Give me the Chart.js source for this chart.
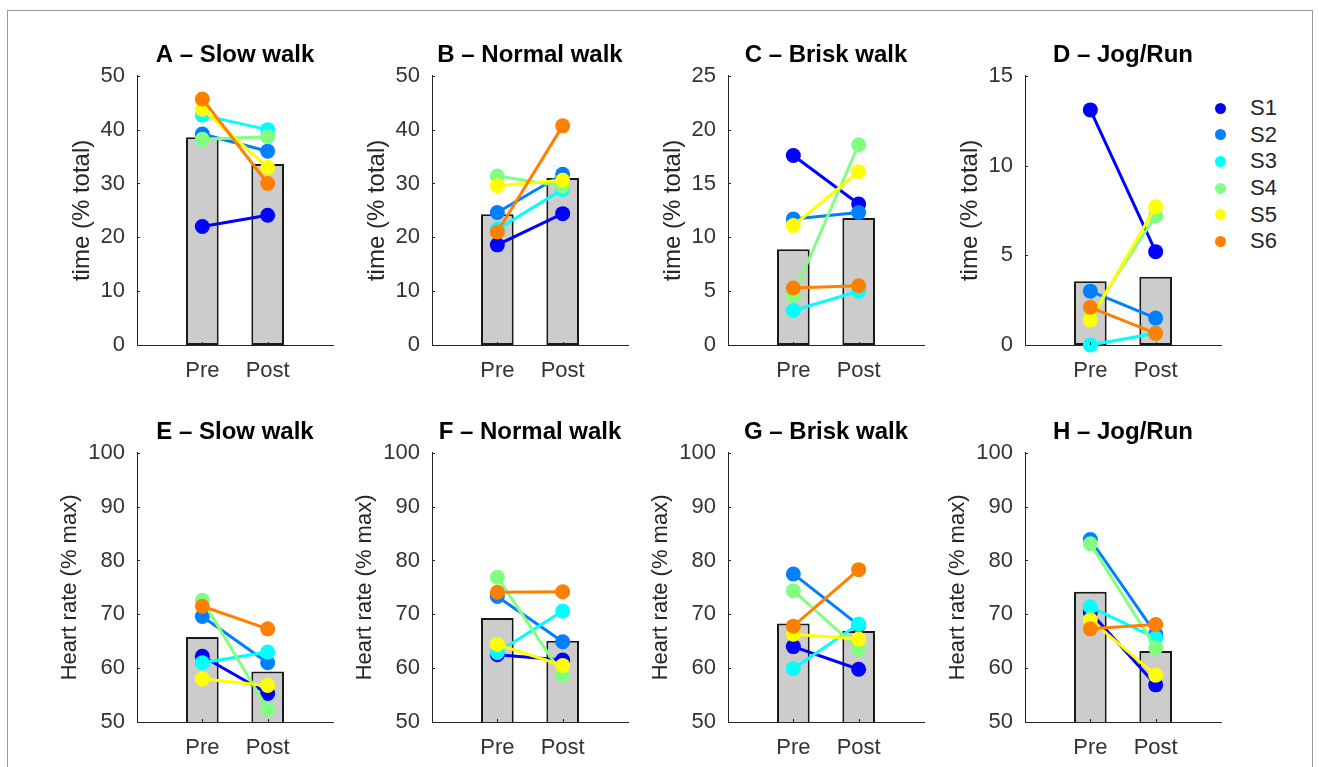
<!DOCTYPE html>
<html>
<head>
<meta charset="utf-8">
<script src="https://cdn.jsdelivr.net/npm/chart.js@4"></script>
<style>
  body { margin: 0; background: #fff; width: 1319px; height: 767px; overflow: hidden; position: relative; font-family: "Liberation Sans", Arial, sans-serif; }
  .frame { position: absolute; left: 7px; top: 10px; width: 1304px; height: 800px; border: 1px solid #9a9a9a; }
  canvas { position: absolute; }
  .legend { position: absolute; left: 1214px; top: 95px; }
  .legend div { height: 26.6px; display: flex; align-items: center; font-size: 22px; color: #262626; }
  .legend span { display: inline-block; width: 11px; height: 11px; border-radius: 50%; margin-right: 24px; margin-left: 1px; }
</style>
</head>
<body>
<div class="frame"></div>
<div class="legend" id="legend"></div>
<script>
const conditions = ['Pre', 'Post'];
const subjects = ['S1', 'S2', 'S3', 'S4', 'S5', 'S6'];
const subjectColors = ['#0000ff', '#0080ff', '#00ffff', '#80ff80', '#ffff00', '#ff8000'];

// time spent in each intensity (% total)
const slowTimePre = [22.0, 39.2, 42.7, 38.2, 43.8, 45.7];
const slowTimePost = [24.1, 36.0, 40.0, 38.7, 33.0, 30.0];
const slowTimeMean = [38.6, 33.6];
const normalTimePre = [18.6, 24.6, 21.5, 31.4, 29.6, 21.0];
const normalTimePost = [24.4, 31.7, 28.9, 29.5, 30.6, 40.7];
const normalTimeMean = [24.3, 31.0];
const briskTimePre = [17.6, 11.7, 3.2, 4.6, 11.1, 5.3];
const briskTimePost = [13.1, 12.3, 5.0, 18.6, 16.1, 5.5];
const briskTimeMean = [8.9, 11.8];
const jogTimePre = [13.1, 3.0, 0.0, 1.6, 1.4, 2.1];
const jogTimePost = [5.2, 1.5, 0.65, 7.2, 7.7, 0.65];
const jogTimeMean = [3.55, 3.8];

// heart rate (% max)
const slowHrPre = [62.2, 69.6, 61.0, 72.6, 58.0, 71.5];
const slowHrPost = [55.3, 61.0, 63.0, 52.4, 56.8, 67.3];
const slowHrMean = [65.8, 59.4];
const normalHrPre = [62.5, 73.3, 62.9, 76.9, 64.4, 74.1];
const normalHrPost = [61.5, 64.9, 70.6, 58.7, 60.5, 74.2];
const normalHrMean = [69.3, 65.1];
const briskHrPre = [64.0, 77.5, 59.9, 74.4, 66.3, 67.8];
const briskHrPost = [59.8, 68.0, 68.2, 63.5, 65.4, 78.3];
const briskHrMean = [68.3, 66.9];
const jogHrPre = [70.4, 83.9, 71.4, 83.1, 69.0, 67.3];
const jogHrPost = [56.9, 66.4, 65.6, 63.8, 58.7, 68.1];
const jogHrMean = [74.2, 63.2];

const timeTitles = ['A – Slow walk', 'B – Normal walk', 'C – Brisk walk', 'D – Jog/Run'];
const hrTitles = ['E – Slow walk', 'F – Normal walk', 'G – Brisk walk', 'H – Jog/Run'];
const timeAxisLabel = 'time (% total)';
const hrAxisLabel = 'Heart rate (% max)';
const timeYMax = [50, 50, 25, 15];
const timeYStep = [10, 10, 5, 5];
const hrYMin = 50, hrYMax = 100, hrYStep = 10;

const timePanels = [
  [slowTimePre, slowTimePost, slowTimeMean],
  [normalTimePre, normalTimePost, normalTimeMean],
  [briskTimePre, briskTimePost, briskTimeMean],
  [jogTimePre, jogTimePost, jogTimeMean]
];
const hrPanels = [
  [slowHrPre, slowHrPost, slowHrMean],
  [normalHrPre, normalHrPost, normalHrMean],
  [briskHrPre, briskHrPost, briskHrMean],
  [jogHrPre, jogHrPost, jogHrMean]
];

// layout
const FONT = '"Liberation Sans", Arial, sans-serif';
const axisLefts = [137, 432, 728, 1025];
const rowTops = [30, 407];
const CW = 396, CH = 370;

const xLabels = ['', ...conditions, ''];
const pad = arr => [null, ...arr, null];

// MATLAB style ticks pointing into the axes
const inwardTicks = {
  id: 'inwardTicks',
  afterDraw(chart) {
    const {ctx, chartArea: a, scales: {x, y}} = chart;
    ctx.save();
    ctx.strokeStyle = '#262626';
    ctx.lineWidth = 1;
    ctx.beginPath();
    y.ticks.forEach(t => {
      const py = Math.round(y.getPixelForValue(t.value)) + 0.5;
      ctx.moveTo(a.left, py); ctx.lineTo(a.left + 3, py);
    });
    [1, 2].forEach(i => {
      const px = Math.round(x.getPixelForValue(i)) + 0.5;
      ctx.moveTo(px, a.bottom); ctx.lineTo(px, a.bottom - 3);
    });
    ctx.stroke();
    ctx.restore();
  }
};

function makePanel(left, top, title, axisLabel, labelSize, yMin, yMax, yStep, pre, post, mean) {
  const canvas = document.createElement('canvas');
  canvas.width = CW; canvas.height = CH;
  canvas.style.left = (left - 100) + 'px';
  canvas.style.top = top + 'px';
  document.body.appendChild(canvas);

  // y label centre sits this far left of the y axis
  const labelGap = labelSize > 22 ? 55 : 67;

  const lines = subjects.map((s, i) => ({
    type: 'line',
    label: s,
    data: pad([pre[i], post[i]]),
    borderColor: subjectColors[i],
    backgroundColor: subjectColors[i],
    borderWidth: 3,
    pointRadius: 7.5,
    pointHoverRadius: 7.5,
    pointBorderWidth: 0,
    order: subjects.length - i,
    clip: false
  }));

  new Chart(canvas, {
    type: 'bar',
    data: {
      labels: xLabels,
      datasets: [...lines, {
        type: 'bar',
        label: 'mean',
        data: pad(mean),
        backgroundColor: '#cccccc',
        borderColor: '#1a1a1a',
        borderWidth: 2,
        borderSkipped: false,
        barPercentage: 0.5,
        categoryPercentage: 1,
        order: 10
      }]
    },
    options: {
      responsive: false,
      animation: false,
      events: [],
      layout: { padding: 0 },
      plugins: {
        legend: { display: false },
        tooltip: { enabled: false },
        title: {
          display: true, text: title, color: '#000',
          font: { family: FONT, size: 24, weight: 'bold' },
          padding: { top: 11, bottom: 6 }
        }
      },
      scales: {
        x: {
          type: 'category',
          offset: false,
          grid: { display: false, drawTicks: false },
          border: { color: '#262626', width: 1 },
          ticks: { color: '#333', font: { family: FONT, size: 22 }, padding: 13, autoSkip: false, maxRotation: 0 },
          afterFit: s => { s.height = 55; }
        },
        y: {
          min: yMin, max: yMax,
          grid: { display: false, drawTicks: false },
          border: { color: '#262626', width: 1 },
          ticks: { stepSize: yStep, color: '#333', font: { family: FONT, size: 22 }, padding: 12 },
          title: {
            display: true, text: axisLabel, color: '#262626',
            font: { family: FONT, size: labelSize },
            padding: { top: 100 - labelGap - labelSize * 0.6, bottom: 0 }
          },
          afterFit: s => { s.width = 100; }
        },
        // empty right axis keeps the plot centred under its title
        yPad: {
          type: 'linear', position: 'right', display: true,
          grid: { display: false, drawTicks: false },
          border: { display: false },
          ticks: { display: false },
          afterFit: s => { s.width = 100; }
        }
      }
    },
    plugins: [inwardTicks]
  });
}

timePanels.forEach((p, i) => {
  makePanel(axisLefts[i], rowTops[0], timeTitles[i], timeAxisLabel, 24, 0, timeYMax[i], timeYStep[i], p[0], p[1], p[2]);
});
hrPanels.forEach((p, i) => {
  makePanel(axisLefts[i], rowTops[1], hrTitles[i], hrAxisLabel, 22, hrYMin, hrYMax, hrYStep, p[0], p[1], p[2]);
});

// legend for the subjects (top right panel)
const legend = document.getElementById('legend');
subjects.forEach((s, i) => {
  const row = document.createElement('div');
  const dot = document.createElement('span');
  dot.style.background = subjectColors[i];
  row.appendChild(dot);
  row.appendChild(document.createTextNode(s));
  legend.appendChild(row);
});
</script>
</body>
</html>
